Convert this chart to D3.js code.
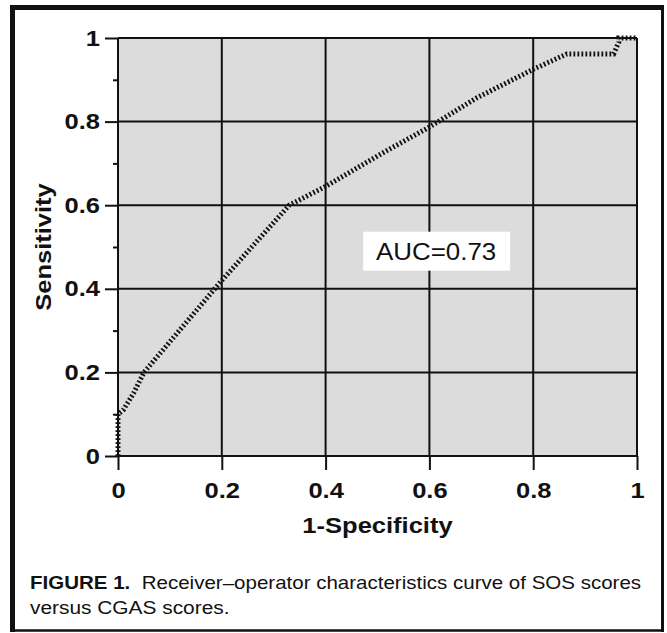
<!DOCTYPE html>
<html>
<head>
<meta charset="utf-8">
<script src="https://cdn.jsdelivr.net/npm/d3@7"></script>
<style>
  html, body { margin: 0; padding: 0; background: #fff; }
  svg { display: block; }
  text { font-family: "Liberation Sans", Arial, Helvetica, sans-serif; fill: #111; }
</style>
</head>
<body>
<svg id="chart" width="667" height="633"></svg>
<script>
// ---- data ----
const fpr = [0, 0, 0.01, 0.03, 0.05, 0.2, 0.33, 0.4, 0.51, 0.6, 0.69, 0.8, 0.865, 0.955, 0.965, 0.965, 1];
const tpr = [0, 0.1, 0.11, 0.15, 0.2, 0.42, 0.6, 0.645, 0.725, 0.787, 0.856, 0.925, 0.962, 0.962, 0.99, 1, 1];
const xTicks = [0, 0.2, 0.4, 0.6, 0.8, 1];
const yTicks = [0, 0.2, 0.4, 0.6, 0.8, 1];
const yMinorTicks = [0.1, 0.3, 0.5, 0.7, 0.9];
const xTitle = "1-Specificity";
const yTitle = "Sensitivity";
const aucLabel = "AUC=0.73";
const aucPos = [0.613, 0.49];
const captionBold = "FIGURE 1.";
const captionLine1 = "Receiver\u2013operator characteristics curve of SOS scores";
const captionLine2 = "versus CGAS scores.";

// ---- layout ----
const svg = d3.select("#chart");
const W = 667, H = 633;
const plot = { left: 118, top: 38, width: 519, height: 418 };
const SX = 1.16; // horizontal stretch of the scanned text
const CSX = 1.14; // caption stretch

const x = d3.scaleLinear().domain([0, 1]).range([0, plot.width]);
const y = d3.scaleLinear().domain([0, 1]).range([plot.height, 0]);

svg.append("rect").attr("width", W).attr("height", H).attr("fill", "#fff");

// outer frame
const frame = svg.append("g").attr("stroke", "#111");
frame.append("line").attr("x1", 12.5).attr("x2", 12.5).attr("y1", 5).attr("y2", 632).attr("stroke-width", 5);
frame.append("line").attr("x1", 10).attr("x2", 664).attr("y1", 7.5).attr("y2", 7.5).attr("stroke-width", 5);
frame.append("line").attr("x1", 662.5).attr("x2", 662.5).attr("y1", 5).attr("y2", 632).attr("stroke-width", 3);
frame.append("line").attr("x1", 10).attr("x2", 664).attr("y1", 630.5).attr("y2", 630.5).attr("stroke-width", 2.5);

const g = svg.append("g").attr("transform", `translate(${plot.left},${plot.top})`);

// plot background
g.append("rect").attr("width", plot.width).attr("height", plot.height).attr("fill", "#dcdcdc");

// grid
g.append("g").selectAll("line").data(xTicks).join("line")
  .attr("x1", d => x(d)).attr("x2", d => x(d))
  .attr("y1", 0).attr("y2", plot.height)
  .attr("stroke", "#111").attr("stroke-width", 2);
g.append("g").selectAll("line").data(yTicks).join("line")
  .attr("x1", 0).attr("x2", plot.width)
  .attr("y1", d => y(d)).attr("y2", d => y(d))
  .attr("stroke", "#111").attr("stroke-width", 2);

// axes
const yAxis = g.append("g")
  .call(d3.axisLeft(y).tickValues(yTicks).tickSize(13).tickPadding(5)
    .tickFormat(d => d3.format("~g")(d)));
const yMinor = g.append("g")
  .call(d3.axisLeft(y).tickValues(yMinorTicks).tickSize(5).tickFormat(""));
const xAxis = g.append("g").attr("transform", `translate(0,${plot.height})`)
  .call(d3.axisBottom(x).tickValues(xTicks).tickSize(14).tickPadding(12)
    .tickFormat(d => d3.format("~g")(d)));

[yAxis, yMinor, xAxis].forEach(a => {
  a.select(".domain").remove();
  a.selectAll(".tick line").attr("stroke", "#111").attr("stroke-width", 2);
});
yAxis.selectAll("text")
  .attr("x", -18 / SX)
  .attr("transform", `scale(${SX},1)`)
  .style("font-size", "22px").style("font-weight", "bold");
xAxis.selectAll("text")
  .attr("transform", `scale(${SX},1)`)
  .style("font-size", "22px").style("font-weight", "bold");

// ROC curve
const line = d3.line().x((d, i) => x(fpr[i])).y((d, i) => y(tpr[i]));
g.append("path").datum(fpr)
  .attr("d", line)
  .attr("fill", "none")
  .attr("stroke", "#111")
  .attr("stroke-width", 5)
  .attr("stroke-dasharray", "1.8,2.2");

// AUC annotation
const ax = x(aucPos[0]), ay = y(aucPos[1]);
g.append("rect")
  .attr("x", ax - 73).attr("y", ay - 19.5)
  .attr("width", 147).attr("height", 39)
  .attr("fill", "#fff");
g.append("text")
  .attr("transform", `translate(${ax},${ay + 8.5}) scale(1.08,1)`)
  .attr("text-anchor", "middle")
  .style("font-size", "24px")
  .text(aucLabel);

// axis titles
svg.append("text")
  .attr("transform", `translate(${plot.left + plot.width / 2},533) scale(${SX},1)`)
  .attr("text-anchor", "middle")
  .style("font-size", "22px").style("font-weight", "bold")
  .text(xTitle);
svg.append("text")
  .attr("transform", `translate(51,${plot.top + plot.height / 2}) rotate(-90) scale(${SX},1)`)
  .attr("text-anchor", "middle")
  .style("font-size", "22px").style("font-weight", "bold")
  .text(yTitle);

// caption
const cap1 = svg.append("text")
  .attr("transform", `translate(30,589) scale(${CSX},1)`)
  .style("font-size", "18px");
cap1.append("tspan").style("font-weight", "bold").text(captionBold);
cap1.append("tspan").attr("dx", 5).text(" " + captionLine1);
svg.append("text")
  .attr("transform", `translate(30,614) scale(${SX},1)`)
  .style("font-size", "18px")
  .text(captionLine2);
</script>
</body>
</html>
